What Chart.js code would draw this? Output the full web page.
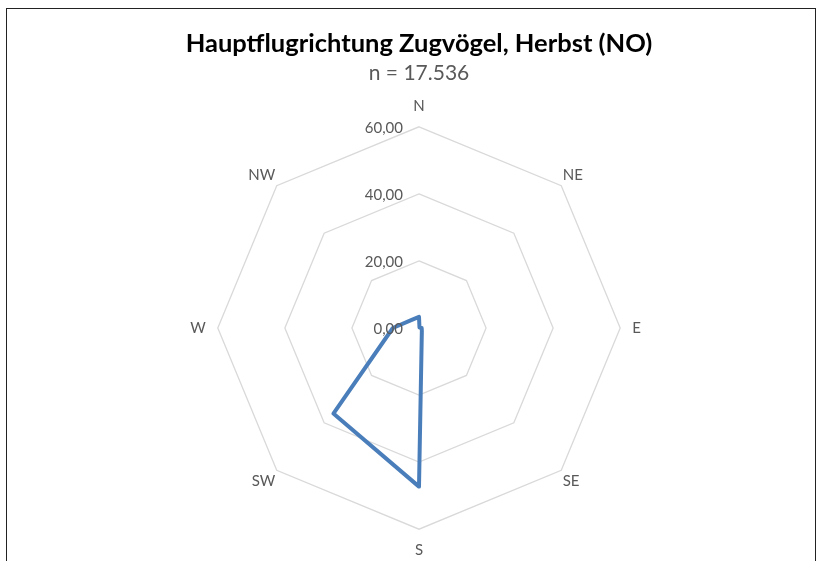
<!DOCTYPE html>
<html>
<head>
<meta charset="utf-8">
<script src="https://cdn.jsdelivr.net/npm/chart.js@4"></script>
<style>
  body { margin: 0; background: #fff; }
  #wrap { position: relative; width: 820px; height: 561px; overflow: hidden; }
  #frame { position: absolute; left: 6px; top: 8px; width: 810px; height: 600px; border: 1px solid #222; box-sizing: border-box; }
  canvas { position: absolute; left: 0; top: 0; }
</style>
</head>
<body>
<div id="wrap">
  <div id="frame"></div>
  <canvas id="radar" width="820" height="561"></canvas>
</div>
<script>
const directions = ['N', 'NE', 'E', 'SE', 'S', 'SW', 'W', 'NW'];
const shares = [3.3, 0.2, 0.8, 1.2, 47.3, 36.1, 7.8, 3.3];
const tickValues = [0, 20, 40, 60];

const fontName = 'Lato, "Open Sans", sans-serif';

// Excel style axis labels: left of the vertical axis, at each ring
const tickLabelPlugin = {
    id: 'tickLabels',
    afterDraw(chart) {
        const scale = chart.scales.r;
        const ctx = chart.ctx;
        ctx.save();
        ctx.font = '15px ' + fontName;
        ctx.fillStyle = '#595959';
        ctx.textAlign = 'right';
        ctx.textBaseline = 'middle';
        tickValues.forEach(function(v) {
            const p = scale.getPointPositionForValue(0, v);
            ctx.fillText(v.toFixed(2).replace('.', ','), p.x - 16, p.y + 1);
        });
        ctx.restore();
    }
};

new Chart(document.getElementById('radar'), {
    type: 'radar',
    data: {
        labels: directions,
        datasets: [{
            data: shares,
            borderColor: '#4a7ebb',
            borderWidth: 4,
            fill: false,
            pointRadius: 0,
            pointHoverRadius: 0,
            borderJoinStyle: 'round'
        }]
    },
    options: {
        responsive: false,
        animation: false,
        layout: {
            padding: { left: 18, right: 0, top: 28, bottom: 1 }
        },
        plugins: {
            legend: { display: false },
            tooltip: { enabled: false },
            title: {
                display: true,
                text: 'Hauptflugrichtung Zugvögel, Herbst (NO)',
                color: '#000',
                font: { family: fontName, size: 25.5, weight: 'bold' },
                padding: { top: 0, bottom: 2 }
            },
            subtitle: {
                display: true,
                text: 'n = 17.536',
                color: '#595959',
                font: { family: fontName, size: 21 },
                padding: { top: 0, bottom: 11 }
            }
        },
        scales: {
            r: {
                min: 0,
                max: 60,
                ticks: { display: false, stepSize: 20 },
                grid: { circular: false, color: '#d9d9d9', lineWidth: 1.3 },
                angleLines: { display: false },
                pointLabels: {
                    color: '#595959',
                    padding: function(ctx) {
                        return ctx.index % 2 === 0 ? 12 : 2;
                    },
                    font: { family: fontName, size: 15 }
                }
            }
        }
    },
    plugins: [tickLabelPlugin]
});
</script>
</body>
</html>
